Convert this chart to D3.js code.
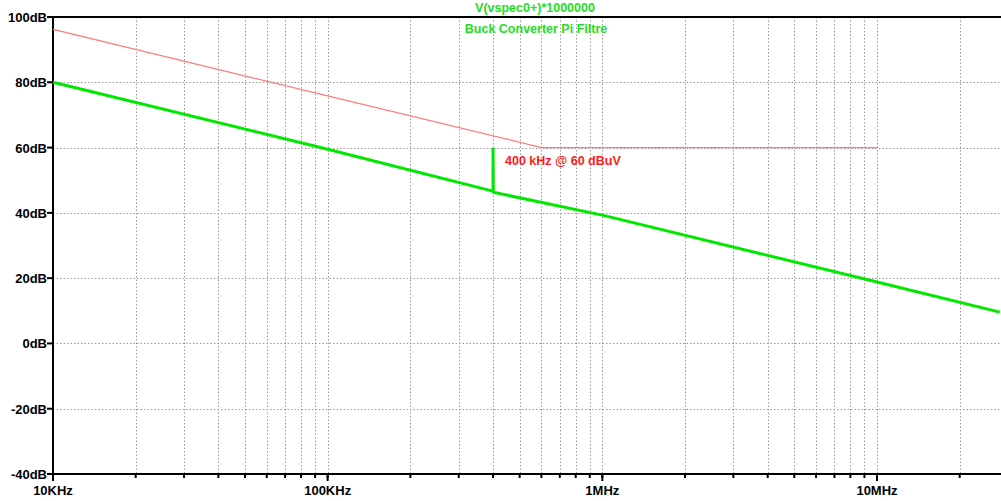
<!DOCTYPE html>
<html>
<head>
<meta charset="utf-8">
<script src="https://cdn.jsdelivr.net/npm/d3@7"></script>
<style>
  body { margin: 0; background: #fff; }
  svg { display: block; font-family: "Liberation Sans", Arial, sans-serif; font-weight: bold; }
</style>
</head>
<body>
<svg id="chart" width="1001" height="501"></svg>
<script>
// dB axis ticks and frequency decades
var dbTicks = [100, 80, 60, 40, 20, 0, -20, -40];
var dbLabels = ["100dB", "80dB", "60dB", "40dB", "20dB", "0dB", "-20dB", "-40dB"];
var decades = [1e4, 1e5, 1e6, 1e7];
var decadeLabels = ["10KHz", "100KHz", "1MHz", "10MHz"];

// green trace: V(vspec0+)*1000000, frequency (Hz) / level (dB)
var traceFreq = [1e4, 1e5, 3.9e5, 4e5, 4e5, 4.01e5, 1e6, 1e7, 2.8e7];
var traceDb   = [80, 59.5, 46.9, 46.6, 59.6, 46.3, 39.3, 18.8, 9.6];

// red limit line
var limitFreq = [1e4, 6e5, 1e7];
var limitDb   = [96.2, 60, 60];

var title = "V(vspec0+)*1000000";
var subtitle = "Buck Converter Pi Filtre";
var note = "400 kHz @ 60 dBuV";

var svg = d3.select("#chart");
var plotLeft = 53, plotTop = 17, plotBottom = 474;

var x = d3.scaleLog().domain([1e4, 1e7]).range([plotLeft, 877]);
var xMax = x.invert(1001);
var y = d3.scaleLinear().domain([-40, 100]).range([plotBottom, plotTop]);

// minor grid positions: 1..9 of every decade inside the view
var gridFreq = [];
decades.forEach(function(d) {
  for (var k = 1; k < 10; k++) {
    var f = d * k;
    if (f > 1e4 && f < xMax) gridFreq.push(f);
  }
});

var grid = svg.append("g")
  .attr("stroke", "#9a9a9a")
  .attr("stroke-width", 1)
  .attr("stroke-dasharray", "1.5,2");

grid.selectAll("line.v").data(gridFreq).enter().append("line")
  .attr("x1", function(d) { return Math.round(x(d)) + 0.5; })
  .attr("x2", function(d) { return Math.round(x(d)) + 0.5; })
  .attr("y1", plotTop).attr("y2", plotBottom);

grid.selectAll("line.h").data(dbTicks.filter(function(d) { return d > -40 && d < 100; })).enter().append("line")
  .attr("x1", plotLeft).attr("x2", 1001)
  .attr("y1", function(d) { return Math.round(y(d)) + 0.5; })
  .attr("y2", function(d) { return Math.round(y(d)) + 0.5; });

// frame lines
svg.append("line").attr("x1", plotLeft).attr("x2", 1001).attr("y1", plotTop).attr("y2", plotTop)
  .attr("stroke", "#000").attr("stroke-width", 2);
svg.append("line").attr("x1", plotLeft).attr("x2", 1001).attr("y1", plotBottom).attr("y2", plotBottom)
  .attr("stroke", "#000").attr("stroke-width", 2);
svg.append("line").attr("x1", plotLeft).attr("x2", plotLeft).attr("y1", plotTop - 1).attr("y2", plotBottom + 1)
  .attr("stroke", "#000").attr("stroke-width", 2);

// y ticks and labels
svg.selectAll("line.yt").data(dbTicks).enter().append("line")
  .attr("x1", plotLeft - 6).attr("x2", plotLeft)
  .attr("y1", function(d) { return y(d); }).attr("y2", function(d) { return y(d); })
  .attr("stroke", "#000").attr("stroke-width", 2);
svg.selectAll("text.yl").data(dbTicks).enter().append("text")
  .attr("x", plotLeft - 6)
  .attr("y", function(d) { return y(d) + 5; })
  .attr("text-anchor", "end")
  .attr("font-size", 13)
  .attr("fill", "#000")
  .text(function(d, i) { return dbLabels[i]; });

// x ticks: short for minor, longer for decades
svg.selectAll("line.xm").data(gridFreq).enter().append("line")
  .attr("x1", function(d) { return x(d); }).attr("x2", function(d) { return x(d); })
  .attr("y1", plotBottom).attr("y2", plotBottom + 4)
  .attr("stroke", "#000").attr("stroke-width", 2);
svg.selectAll("line.xM").data(decades).enter().append("line")
  .attr("x1", function(d) { return x(d); }).attr("x2", function(d) { return x(d); })
  .attr("y1", plotBottom).attr("y2", plotBottom + 7)
  .attr("stroke", "#000").attr("stroke-width", 2);
svg.selectAll("text.xl").data(decades).enter().append("text")
  .attr("x", function(d) { return x(d); })
  .attr("y", plotBottom + 21)
  .attr("text-anchor", "middle")
  .attr("font-size", 13)
  .attr("fill", "#000")
  .text(function(d, i) { return decadeLabels[i]; });

var line = d3.line()
  .x(function(d) { return x(d[0]); })
  .y(function(d) { return y(d[1]); });

// red limit
svg.append("path")
  .attr("d", line(d3.zip(limitFreq, limitDb)))
  .attr("fill", "none")
  .attr("stroke", "#ff7a7a")
  .attr("stroke-width", 1.2);

// green trace
svg.append("path")
  .attr("d", line(d3.zip(traceFreq, traceDb)))
  .attr("fill", "none")
  .attr("stroke", "#00e800")
  .attr("stroke-width", 3)
  .attr("stroke-linejoin", "round");

// titles
svg.append("text").attr("x", 535).attr("y", 12)
  .attr("text-anchor", "middle").attr("font-size", 12.5).attr("fill", "#22dd22")
  .text(title);
svg.append("text").attr("x", 536).attr("y", 33)
  .attr("text-anchor", "middle").attr("font-size", 12.5).attr("fill", "#22dd22")
  .text(subtitle);

// annotation
svg.append("text").attr("x", x(4e5) + 12).attr("y", y(60) + 17)
  .attr("font-size", 12.5).attr("fill", "#ff1a1a")
  .text(note);
</script>
</body>
</html>
